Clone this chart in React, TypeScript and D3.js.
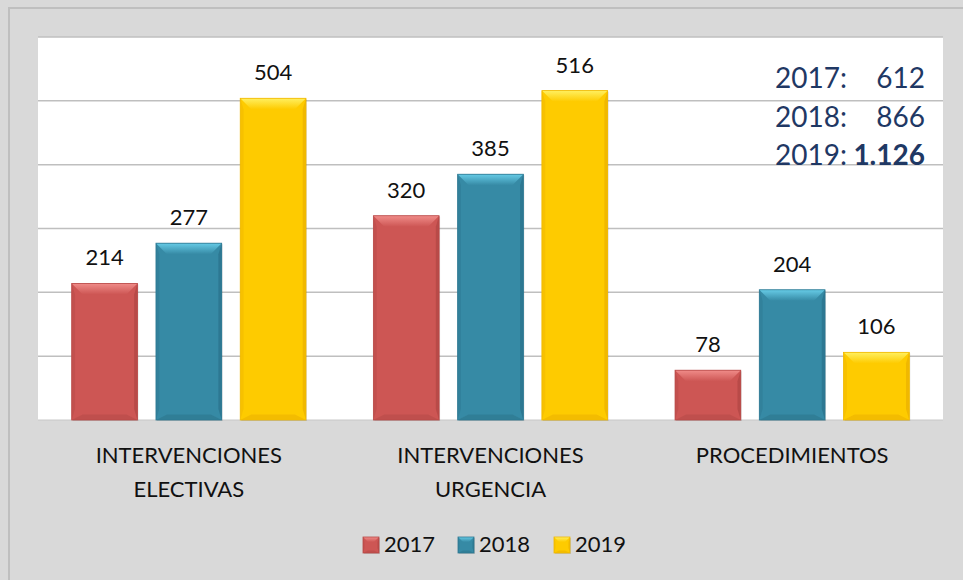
import { scaleBand, scaleLinear } from "d3";

const categories = [
  ["INTERVENCIONES", "ELECTIVAS"],
  ["INTERVENCIONES", "URGENCIA"],
  ["PROCEDIMIENTOS"],
];
const years = ["2017", "2018", "2019"];
const values2017 = [214, 320, 78];
const values2018 = [277, 385, 204];
const values2019 = [504, 516, 106];
const yTicks = [0, 100, 200, 300, 400, 500, 600];
const totals = [
  { year: "2017:", total: "612" },
  { year: "2018:", total: "866" },
  { year: "2019:", total: "1.126" },
];

const palette = {
  "2017": { base: "#cd5654", top: "#f08c89", side: "#b84a48", bottom: "#b04644" },
  "2018": { base: "#368aa5", top: "#66cbe6", side: "#2d7892", bottom: "#2a6f86" },
  "2019": { base: "#fecb00", top: "#fff060", side: "#f0b800", bottom: "#e6ab00" },
};

const font = "Lato, 'Open Sans', sans-serif";

function BevelBar({ x, y, w, h, year, bevel = 11 }) {
  const c = palette[year];
  const b = Math.min(bevel, h / 2, w / 2);
  const x2 = x + w;
  const y2 = y + h;
  return (
    <g>
      <rect x={x + 1} y={y + 1} width={w} height={h} fill="#000" opacity={0.12} />
      <rect x={x} y={y} width={w} height={h} fill={c.base} />
      <polygon points={`${x},${y} ${x2},${y} ${x2 - b},${y + b} ${x + b},${y + b}`} fill={`url(#top-${year})`} />
      <polygon points={`${x},${y} ${x + b * 0.3},${y + b} ${x + b * 0.3},${y2 - b} ${x},${y2}`} fill={c.side} opacity={0.5} />
      <polygon points={`${x2},${y} ${x2 - b * 0.3},${y + b} ${x2 - b * 0.3},${y2 - b} ${x2},${y2}`} fill={c.side} />
      <polygon points={`${x},${y2} ${x2},${y2} ${x2 - b},${y2 - b * 0.5} ${x + b},${y2 - b * 0.5}`} fill={c.bottom} opacity={0.45} />
      <rect x={x} y={y} width={w} height={h} fill="none" stroke={c.side} strokeWidth={0.8} />
    </g>
  );
}

export default function App() {
  const width = 963;
  const height = 580;
  const plot = { left: 38, right: 943, top: 37, bottom: 420 };
  const series = [values2017, values2018, values2019];

  const x0 = scaleBand().domain(categories.map((_, i) => String(i))).range([plot.left, plot.right]).padding(0);
  const x1 = scaleBand().domain(years).range([0, x0.bandwidth()]).paddingInner(0.22).paddingOuter(0.4);
  const y = scaleLinear().domain([0, 600]).range([plot.bottom, plot.top]);

  const legendX = [363, 458, 554];

  return (
    <svg width={width} height={height} style={{ position: "absolute", left: 0, top: 0 }}>
      <defs>
        {years.map((yr) => (
          <linearGradient key={yr} id={`top-${yr}`} x1="0" y1="0" x2="0" y2="1">
            <stop offset="0%" stopColor={palette[yr].top} />
            <stop offset="100%" stopColor={palette[yr].base} />
          </linearGradient>
        ))}
      </defs>
      <rect x={0} y={0} width={width} height={height} fill="#d9d9d9" />
      <rect x={9} y={8} width={width + 20} height={height + 20} fill="#d9d9d9" stroke="#bfbfbf" strokeWidth={2} />
      <rect x={plot.left} y={plot.top} width={plot.right - plot.left} height={plot.bottom - plot.top} fill="#ffffff" />
      {yTicks.slice(1).map((t) => (
        <line key={t} x1={plot.left} x2={plot.right} y1={y(t)} y2={y(t)} stroke="#bfbfbf" strokeWidth={1.5} />
      ))}
      <line x1={plot.left} x2={plot.right} y1={y(0)} y2={y(0)} stroke="#c8c8c8" strokeWidth={1} />

      {categories.map((cat, ci) => (
        <g key={ci}>
          {years.map((yr, si) => {
            const v = series[si][ci];
            const bx = x0(String(ci)) + x1(yr);
            const bw = x1.bandwidth();
            return (
              <g key={yr}>
                <BevelBar x={bx} y={y(v)} w={bw} h={y(0) - y(v)} year={yr} />
                <text x={bx + bw / 2} y={y(v) - 18} textAnchor="middle" fontFamily={font} fontSize={22} fill="#111">
                  {v}
                </text>
              </g>
            );
          })}
          <text x={x0(String(ci)) + x0.bandwidth() / 2} y={463} textAnchor="middle" fontFamily={font} fontSize={22} fill="#111">
            {cat.map((line, li) => (
              <tspan key={li} x={x0(String(ci)) + x0.bandwidth() / 2} dy={li === 0 ? 0 : 34}>
                {line}
              </tspan>
            ))}
          </text>
        </g>
      ))}

      {totals.map((t, i) => (
        <g key={t.year} fontFamily={font} fontSize={28} fill="#1f3864">
          <text x={775} y={88 + i * 38.5}>{t.year}</text>
          <text x={925} y={88 + i * 38.5} textAnchor="end" fontWeight={i === 2 ? 700 : 400}>
            {t.total}
          </text>
        </g>
      ))}

      {years.map((yr, i) => (
        <g key={yr}>
          <BevelBar x={legendX[i]} y={537} w={16} h={16} year={yr} bevel={5} />
          <text x={legendX[i] + 21} y={552} fontFamily={font} fontSize={22} fill="#111">
            {yr}
          </text>
        </g>
      ))}
    </svg>
  );
}
